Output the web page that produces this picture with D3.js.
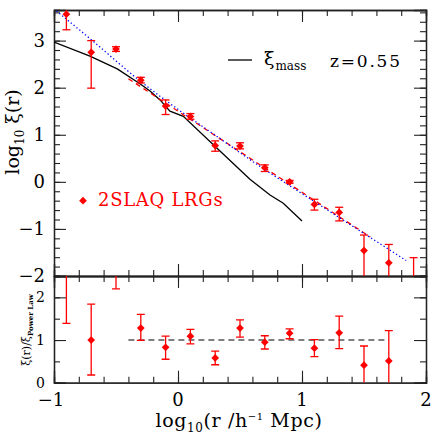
<!DOCTYPE html>
<html>
<head>
<meta charset="utf-8">
<script src="https://cdn.jsdelivr.net/npm/d3@7"></script>
<style>
  body { margin: 0; background: #fff; }
  text { font-family: "DejaVu Serif", serif; }
</style>
</head>
<body>
<div id="chart"></div>
<script>
// bins in log10(r)
const logR = [-0.9, -0.7, -0.5, -0.3, -0.1, 0.1, 0.3, 0.5, 0.7, 0.9, 1.1, 1.3, 1.5, 1.7, 1.9];
// log10 xi(r) for 2SLAQ LRGs, with error bar ends
const logXi   = [3.56, 2.75, 2.82, 2.16, 1.61, 1.39, 0.77, 0.76, 0.30, 0.00, -0.48, -0.65, -1.46, -1.72, -2.30];
const logXiHi = [3.90, 3.00, 2.87, 2.22, 1.74, 1.45, 0.87, 0.83, 0.36, 0.03, -0.37, -0.54, -1.13, -1.33, -1.61];
const logXiLo = [3.23, 1.99, 2.77, 2.10, 1.43, 1.33, 0.65, 0.70, 0.22, -0.03, -0.60, -0.83, -2.30, -2.40, -3.00];

// ratio xi / xi_power law (lower panel)
const ratioR  = [-0.9, -0.7, -0.5, -0.3, -0.1, 0.1, 0.3, 0.5, 0.7, 0.9, 1.1, 1.3, 1.5, 1.7];
const ratio   = [3.20, 1.00, 2.90, 1.28, 0.83, 1.09, 0.58, 1.28, 0.95, 1.16, 0.81, 1.17, 0.41, 0.51];
const ratioHi = [4.50, 1.84, 3.50, 1.60, 1.09, 1.25, 0.74, 1.47, 1.10, 1.26, 1.01, 1.56, 0.86, 1.22];
const ratioLo = [1.39, 0.18, 2.20, 0.99, 0.55, 0.91, 0.42, 1.07, 0.79, 1.03, 0.61, 0.80, -0.30, -0.30];

// mass correlation function
const massX = [-1, -0.71, -0.49, -0.31, -0.226, -0.145, -0.065, 0.043, 0.30, 0.58, 0.742, 0.849, 1.0];
const massY = [2.97, 2.67, 2.40, 2.09, 1.93, 1.74, 1.50, 1.39, 0.75, 0.055, -0.28, -0.455, -0.83];

// power law fit (red dashed)
const plX = [-0.4, 1.55];
const plY = [2.19, -1.17];

// blue dotted model
const blueX = [-0.98, -0.7, -0.3, 0, 0.3, 0.66, 1.0, 1.3, 1.84];
const blueY = [3.63, 3.02, 2.13, 1.54, 0.99, 0.33, -0.25, -0.76, -1.67];

// reference line in lower panel
const unityX = [-0.4, 1.7];
const unityY = [1, 1];

const xTicks = [-1, 0, 1, 2];
const yTopTicks = [-2, -1, 0, 1, 2, 3];
const yBotTicks = [0, 1, 2];

const width = 436, height = 436;
const pLeft = 54, pRight = 426, pTop = 10, pMid = 276, pBottom = 382.7;

const svg = d3.select('#chart').append('svg')
    .attr('width', width)
    .attr('height', height);

const x = d3.scaleLinear().domain([-1, 2]).range([pLeft, pRight]);
const yTop = d3.scaleLinear().domain([-2, 3.65]).range([pMid, pTop]);
const yBot = d3.scaleLinear().domain([0, 2.5]).range([pBottom, pMid]);

const minorVals = (lo, hi, step) => d3.range(Math.round((hi - lo) / step) + 1)
    .map(i => +(lo + i * step).toFixed(3));

const fmt = d => (d < 0 ? '\u2212' + Math.abs(d) : '' + d);

// clip regions
const defs = svg.append('defs');
defs.append('clipPath').attr('id', 'clipTop').append('rect')
    .attr('x', pLeft).attr('y', pTop).attr('width', pRight - pLeft).attr('height', pMid - pTop);
defs.append('clipPath').attr('id', 'clipBot').append('rect')
    .attr('x', pLeft).attr('y', pMid).attr('width', pRight - pLeft).attr('height', pBottom - pMid);

// draw a frame with inward ticks on all four sides
const frame = (yScale, y0, y1, yMajor, yMinor, yFont) => {
    const xMinor = minorVals(-1, 2, 0.2);
    const xAxes = [
        { ax: () => d3.axisBottom(x), t: `translate(0,${y1})` },
        { ax: () => d3.axisTop(x), t: `translate(0,${y0})` }
    ];
    xAxes.forEach(a => {
        svg.append('g').attr('transform', a.t)
            .call(a.ax().tickValues(xMinor).tickSize(-6).tickFormat(''));
        svg.append('g').attr('transform', a.t)
            .call(a.ax().tickValues(xTicks).tickSize(-12).tickFormat(''));
    });
    const yAxes = [
        { ax: () => d3.axisLeft(yScale), t: `translate(${pLeft},0)`, lab: true },
        { ax: () => d3.axisRight(yScale), t: `translate(${pRight},0)`, lab: false }
    ];
    yAxes.forEach(a => {
        svg.append('g').attr('transform', a.t)
            .call(a.ax().tickValues(yMinor).tickSize(-6).tickFormat(''));
        const g = svg.append('g').attr('transform', a.t)
            .call(a.ax().tickValues(yMajor).tickSize(-12).tickPadding(9)
                .tickFormat(a.lab ? fmt : ''));
        g.selectAll('text').attr('font-size', yFont).attr('fill', '#000')
            .attr('font-family', '"DejaVu Serif", serif');
    });
    svg.selectAll('.domain').attr('stroke', '#222').attr('stroke-width', 1.3);
    svg.selectAll('.tick line').attr('stroke', '#222').attr('stroke-width', 1.1);
};

frame(yTop, pTop, pMid, yTopTicks, minorVals(-2, 3.6, 0.2), 18);
frame(yBot, pMid, pBottom, yBotTicks, minorVals(0, 2.5, 0.5), 14);

// x tick labels under lower panel
svg.append('g').selectAll('text')
    .data(xTicks)
    .enter()
        .append('text')
        .attr('x', d => x(d) - (d < 0 ? 3 : 0))
        .attr('y', 406)
        .attr('text-anchor', 'middle')
        .attr('font-size', 18)
        .text(fmt);

// upper panel lines
const gTop = svg.append('g').attr('clip-path', 'url(#clipTop)');
const lineTop = d3.line().x(d => x(d[0])).y(d => yTop(d[1]));

gTop.append('path')
    .datum(massX.map((d, i) => [d, massY[i]]))
    .attr('d', lineTop)
    .attr('fill', 'none').attr('stroke', '#000').attr('stroke-width', 1.3);

gTop.append('path')
    .datum(plX.map((d, i) => [d, plY[i]]))
    .attr('d', lineTop)
    .attr('fill', 'none').attr('stroke', '#ff0000').attr('stroke-width', 1.3)
    .attr('stroke-dasharray', '5,4');

gTop.append('path')
    .datum(blueX.map((d, i) => [d, blueY[i]]))
    .attr('d', d3.line().curve(d3.curveMonotoneX).x(d => x(d[0])).y(d => yTop(d[1])))
    .attr('fill', 'none').attr('stroke', '#0000ff').attr('stroke-width', 1.3)
    .attr('stroke-dasharray', '1.3,2.4');

// error bars + markers
const diamond = d3.symbol().type(d3.symbolSquare).size(30);
const drawPoints = (g, xs, vals, his, los, yScale) => {
    const data = xs.map((d, i) => ({ x: d, v: vals[i], hi: his[i], lo: los[i] }));
    const eb = g.append('g').attr('stroke', '#ff0000').attr('stroke-width', 1.3);
    eb.selectAll('.bar').data(data).enter().append('line')
        .attr('x1', d => x(d.x)).attr('x2', d => x(d.x))
        .attr('y1', d => yScale(d.hi)).attr('y2', d => yScale(d.lo));
    eb.selectAll('.capHi').data(data).enter().append('line')
        .attr('x1', d => x(d.x) - 4).attr('x2', d => x(d.x) + 4)
        .attr('y1', d => yScale(d.hi)).attr('y2', d => yScale(d.hi));
    eb.selectAll('.capLo').data(data).enter().append('line')
        .attr('x1', d => x(d.x) - 4).attr('x2', d => x(d.x) + 4)
        .attr('y1', d => yScale(d.lo)).attr('y2', d => yScale(d.lo));
    g.selectAll('.pt').data(data).enter().append('path')
        .attr('d', diamond)
        .attr('transform', d => `translate(${x(d.x)},${yScale(d.v)}) rotate(45)`)
        .attr('fill', '#ff0000');
};

drawPoints(gTop, logR, logXi, logXiHi, logXiLo, yTop);

// lower panel
const gBot = svg.append('g').attr('clip-path', 'url(#clipBot)');
gBot.append('path')
    .datum(unityX.map((d, i) => [d, unityY[i]]))
    .attr('d', d3.line().x(d => x(d[0])).y(d => yBot(d[1])))
    .attr('fill', 'none').attr('stroke', '#000').attr('stroke-width', 1.2)
    .attr('stroke-dasharray', '6,4');
drawPoints(gBot, ratioR, ratio, ratioHi, ratioLo, yBot);

// legend
svg.append('line')
    .attr('x1', 228).attr('x2', 252).attr('y1', 60).attr('y2', 60)
    .attr('stroke', '#000').attr('stroke-width', 1.3);
const lt = svg.append('text').attr('x', 264).attr('y', 65).attr('font-size', 19);
lt.append('tspan').text('\u03be');
lt.append('tspan').attr('font-size', 12).attr('dy', 5).attr('dx', 1).text('mass');
svg.append('text').attr('x', 330).attr('y', 66.5).attr('font-size', 17)
    .attr('letter-spacing', 1.8).text('z=0.55');

svg.append('path')
    .attr('d', diamond)
    .attr('transform', 'translate(83,200.7) rotate(45)')
    .attr('fill', '#ff0000');
svg.append('text').attr('x', 98).attr('y', 206).attr('font-size', 18)
    .attr('letter-spacing', 0.7)
    .attr('fill', '#ff0000').text('2SLAQ LRGs');

// axis titles
const yl = svg.append('text')
    .attr('transform', 'translate(19,132) rotate(-90)')
    .attr('text-anchor', 'middle')
    .attr('font-size', 19);
yl.append('tspan').text('log');
yl.append('tspan').attr('font-size', 12).attr('dy', 5).text('10');
yl.append('tspan').attr('dy', -5).text(' \u03be(r)');

const yl2 = svg.append('text')
    .attr('transform', 'translate(30,330) rotate(-90)')
    .attr('text-anchor', 'middle')
    .attr('font-size', 11);
yl2.append('tspan').text('\u03be(r)/\u03be');
yl2.append('tspan').attr('font-size', 7).attr('font-weight', 'bold').attr('dy', 3).text('Power Law');

const xl = svg.append('text')
    .attr('x', 239).attr('y', 427)
    .attr('text-anchor', 'middle')
    .attr('letter-spacing', 0.6)
    .attr('font-size', 19);
xl.append('tspan').text('log');
xl.append('tspan').attr('font-size', 12).attr('dy', 5).text('10');
xl.append('tspan').attr('dy', -5).text('(r /h');
xl.append('tspan').attr('font-size', 10).attr('dy', -7).text('\u22121');
xl.append('tspan').attr('dy', 7).text(' Mpc)');
</script>
</body>
</html>
